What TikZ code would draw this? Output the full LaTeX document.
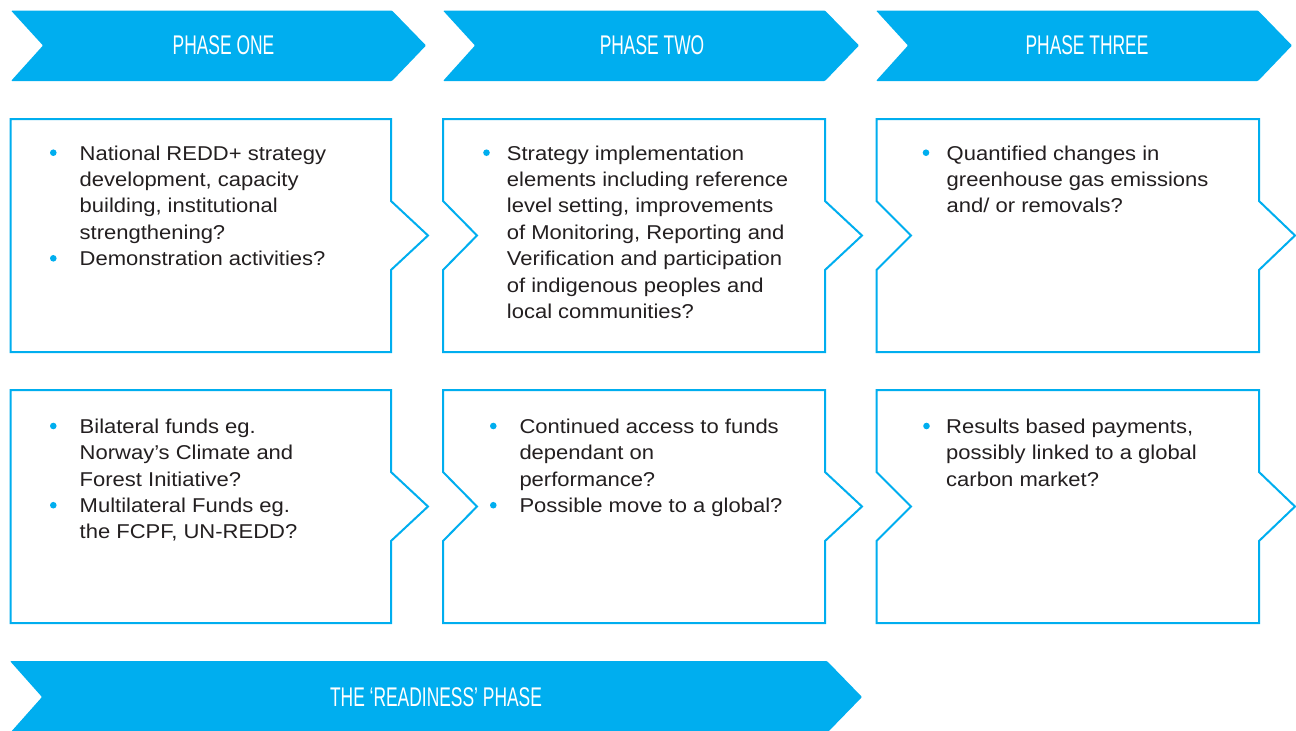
\documentclass[tikz,border=0pt]{standalone}
\usepackage{fontspec}
\usepackage{tikz}
\usetikzlibrary{positioning}
\newfontfamily\bodyfont[FakeStretch=1.1]{Liberation Sans}
\newfontfamily\headfont[FakeStretch=0.645]{Liberation Sans}
\definecolor{sky}{HTML}{00AEEF}
\definecolor{ink}{HTML}{231F20}

\begin{document}
\begin{tikzpicture}[x=1pt, y=-1pt,
  arrowband/.style={fill=sky, rounded corners=1pt},
  stagebox/.style={draw=sky, line width=2pt, fill=white},
  headtext/.style={text=white, font=\headfont\fontsize{27}{30}\selectfont, inner sep=0pt},
  bodytext/.style={text=ink, font=\bodyfont\fontsize{20}{26.4}\selectfont, align=left, anchor=base west, inner sep=0pt},
  bulletdot/.style={circle, fill=sky, minimum size=6.6pt, inner sep=0pt}]

\useasboundingbox (0,0) rectangle (1296,731);

% phase bands
\fill[arrowband] (11,10.5) -- (392,10.5) -- (426,45.5) -- (392,81) -- (11,81) -- (43,45.5) -- cycle;
\fill[arrowband] (443,10.5) -- (825,10.5) -- (859,45.5) -- (825,81) -- (443,81) -- (475,45.5) -- cycle;
\fill[arrowband] (876,10.5) -- (1258,10.5) -- (1292,45.5) -- (1258,81) -- (876,81) -- (908,45.5) -- cycle;
\node[headtext] (P1) at (223.5,45) {PHASE ONE};
\node[headtext] (P2) at (652,45) {PHASE TWO};
\node[headtext] (P3) at (1087,45) {PHASE THREE};

% upper row
\draw[stagebox] (10.5,119) -- (391,119) -- (391,201) -- (428,235.5) -- (391,270) -- (391,352) -- (10.5,352) -- cycle;
\draw[stagebox] (443,119) -- (825,119) -- (825,201) -- (862,235.5) -- (825,270) -- (825,352) -- (443,352) -- (443,270) -- (477,235.5) -- (443,201) -- cycle;
\draw[stagebox] (876.5,119) -- (1259,119) -- (1259,201) -- (1295,235.5) -- (1259,270) -- (1259,352) -- (876.5,352) -- (876.5,270) -- (911,235.5) -- (876.5,201) -- cycle;

% lower row
\draw[stagebox] (10.5,390) -- (391,390) -- (391,472) -- (428,506.5) -- (391,541) -- (391,623) -- (10.5,623) -- cycle;
\draw[stagebox] (443,390) -- (825,390) -- (825,472) -- (862,506.5) -- (825,541) -- (825,623) -- (443,623) -- (443,541) -- (477,506.5) -- (443,472) -- cycle;
\draw[stagebox] (876.5,390) -- (1259,390) -- (1259,472) -- (1295,506.5) -- (1259,541) -- (1259,623) -- (876.5,623) -- (876.5,541) -- (911,506.5) -- (876.5,472) -- cycle;

% upper texts (base = last line)
\node[bulletdot] (b1a) at (53.3,152.7) {};
\node[bodytext] (t1a) at (79.5,239.2) {National REDD+ strategy\\development, capacity\\building, institutional\\strengthening?};
\node[bulletdot] (b1b) at (53.3,258.3) {};
\node[bodytext] (t1b) at (79.5,265.6) {Demonstration activities?};

\node[bulletdot] (b2a) at (486.5,152.7) {};
\node[bodytext] (t2a) at (506.7,318.4) {Strategy implementation\\elements including reference\\level setting, improvements\\of Monitoring, Reporting and\\Verification and participation\\of indigenous peoples and\\local communities?};

\node[bulletdot] (b3a) at (926,152.7) {};
\node[bodytext] (t3a) at (946.5,212.8) {Quantified changes in\\greenhouse gas emissions\\and/ or removals?};

% lower texts
\node[bulletdot] (b4a) at (53.3,426) {};
\node[bodytext] (t4a) at (79.5,486.1) {Bilateral funds eg.\\Norway’s Climate and\\Forest Initiative?};
\node[bulletdot] (b4b) at (53.3,505.2) {};
\node[bodytext] (t4b) at (79.5,538.9) {Multilateral Funds eg.\\the FCPF, UN-REDD?};

\node[bulletdot] (b5a) at (493.3,426) {};
\node[bodytext] (t5a) at (519.3,486.1) {Continued access to funds\\dependant on\\performance?};
\node[bulletdot] (b5b) at (493.3,505.2) {};
\node[bodytext] (t5b) at (519.3,512.5) {Possible move to a global?};

\node[bulletdot] (b6a) at (926.5,426) {};
\node[bodytext] (t6a) at (946,486.1) {Results based payments,\\possibly linked to a global\\carbon market?};

% readiness band
\fill[arrowband] (10,661) -- (827,661) -- (862,697) -- (827,733) -- (10,733) -- (42,697) -- cycle;
\node[headtext] (R) at (436,697) {THE ‘READINESS’ PHASE};

\end{tikzpicture}
\end{document}
